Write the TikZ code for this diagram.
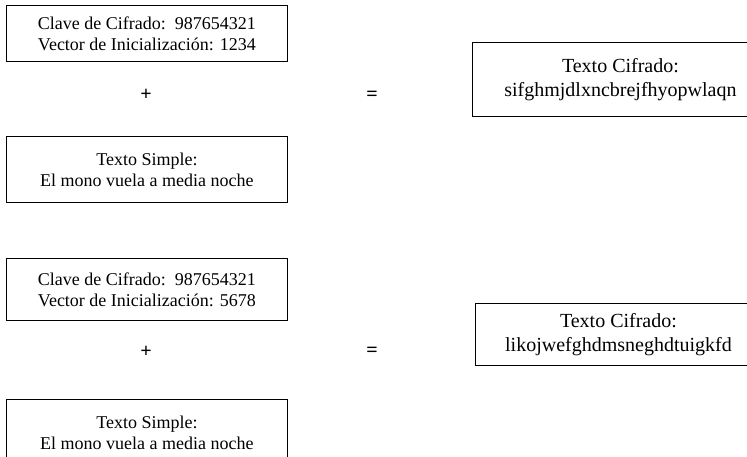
\documentclass[tikz,border=0pt]{standalone}
\usepackage{fontspec}
\setmainfont{Liberation Serif}
\begin{document}
\begin{tikzpicture}[x=1pt,y=-1pt,
  box/.style={draw=black,line width=0.9pt,rectangle,inner sep=0pt,anchor=north west,
    align=center,font=\fontsize{18}{21}\selectfont},
  outbox/.style={box,font=\fontsize{20}{24}\selectfont},
  op/.style={font=\fontsize{20}{20}\selectfont\bfseries,inner sep=0pt}]
\useasboundingbox (0,0) rectangle (747,457);
\clip (0,0) rectangle (747,457);

% first key/IV block
\node[box,minimum width=281pt,minimum height=56pt] (k1) at (6,5)
  {Clave de Cifrado:\ \ 987654321\\Vector de Inicialización: 1234};
\node[op] (p1) at (146,95) {+};
\node[box,minimum width=281pt,minimum height=66pt] (t1) at (6,136)
  {Texto Simple:\\El mono vuela a media noche};
\node[op] (e1) at (372,96) {=};
\node[outbox,minimum width=296pt,minimum height=74pt] (c1) at (472,42)
  {Texto Cifrado:\\sifghmjdlxncbrejfhyopwlaqn};

% second key/IV block
\node[box,minimum width=281pt,minimum height=62pt] (k2) at (6,258)
  {Clave de Cifrado:\ \ 987654321\\Vector de Inicialización: 5678};
\node[op] (p2) at (146,352) {+};
\node[box,minimum width=281pt,minimum height=66pt] (t2) at (6,399)
  {Texto Simple:\\El mono vuela a media noche};
\node[op] (e2) at (372,352) {=};
\node[outbox,minimum width=286pt,minimum height=62pt] (c2) at (475,303)
  {Texto Cifrado:\\likojwefghdmsneghdtuigkfd};
\end{tikzpicture}
\end{document}
